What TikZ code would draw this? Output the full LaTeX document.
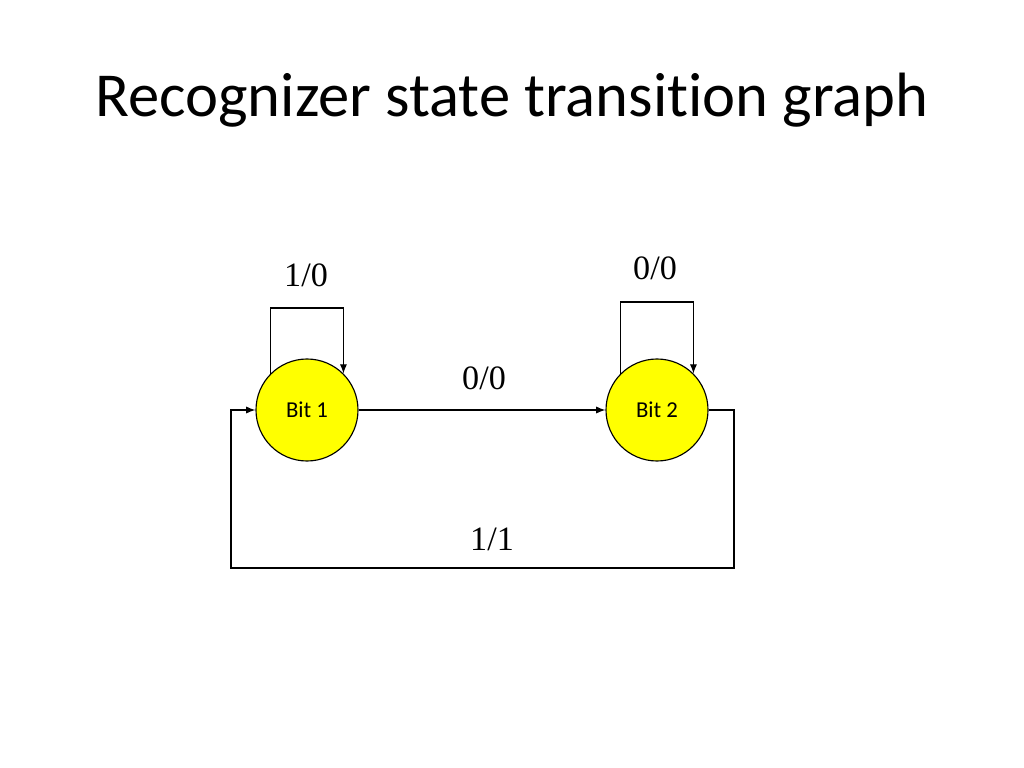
\documentclass[tikz,border=0pt]{standalone}
\usepackage{fontspec}
\setmainfont{Liberation Serif}
\newfontfamily\calib[Ligatures=NoCommon]{Carlito}
\usetikzlibrary{arrows.meta}
\definecolor{stateyellow}{RGB}{255,255,0}
\begin{document}
\begin{tikzpicture}[x=0.703125pt,y=-0.703125pt,
  state/.style={circle,draw=black,fill=stateyellow,line width=0.8pt,minimum size=102*0.703125pt,inner sep=0pt,font=\calib\fontsize{16}{19}\selectfont},
  edge/.style={draw=black,line width=0.8pt,-{Latex[length=6.5pt,width=5pt]}},
  lbl/.style={font=\fontsize{24}{28}\selectfont,inner sep=0pt}]
\useasboundingbox (0,0) rectangle (1024,768);
\node[font=\calib\fontsize{44}{52}\selectfont,anchor=base] (title) at (512,117) {Recognizer state transition graph};
\node[state] (b1) at (307,410) {Bit 1};
\node[state] (b2) at (657,410) {Bit 2};
% forward transition
\draw[edge] (b1.east) -- (b2.west);
% self loops
\draw[edge] (b1.north west) -- (b1.north west |- 0,308) -| (b1.north east);
\draw[edge] (b2.north west) -- (b2.north west |- 0,302) -| (b2.north east);
% return transition
\coordinate (r1) at (734,410);
\coordinate (r2) at (231,568);
\draw[edge] (b2.east) -- (r1) |- (r2) -- (231,410) -- (b1.west);
% labels
\node[lbl] (l10) at (306,275) {1/0};
\node[lbl] (l00a) at (655,268) {0/0};
\node[lbl] (l00b) at (484,378) {0/0};
\node[lbl] (l11) at (492,539) {1/1};
\end{tikzpicture}
\end{document}
